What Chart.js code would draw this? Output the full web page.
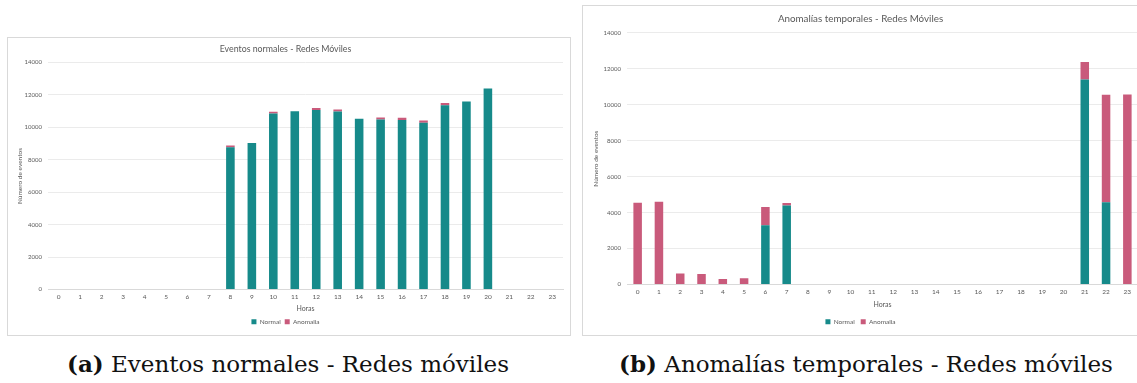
<!DOCTYPE html>
<html>
<head>
<meta charset="utf-8">
<script src="https://cdn.jsdelivr.net/npm/chart.js@4.4.0/dist/chart.umd.min.js"></script>
<style>
html, body { margin: 0; padding: 0; background: #fff; overflow: hidden; }
body { width: 1137px; height: 383px; position: relative; }
.box { position: absolute; border: 1px solid #d9d9d9; background: #fff; }
.box canvas { position: absolute; left: 0; top: 0; }
.cap { position: absolute; font-family: "DejaVu Serif", serif; font-size: 23px; color: #111; white-space: nowrap; text-align: center; }
.cap b { font-weight: bold; }
</style>
</head>
<body>

<div class="box" id="boxA" style="left:7px; top:37px; width:562px; height:297px;"><canvas id="chartA"></canvas></div>
<div class="box" id="boxB" style="left:582px; top:5px; width:562px; height:329px;"><canvas id="chartB"></canvas></div>

<div class="cap" style="left:0px; width:576px; top:350px;"><b>(a)</b> Eventos normales - Redes móviles</div>
<div class="cap" style="left:578px; width:576px; top:350px;"><b>(b)</b> Anomalías temporales - Redes móviles</div>

<script>
// horas del dia
var horas = ['0','1','2','3','4','5','6','7','8','9','10','11','12','13','14','15','16','17','18','19','20','21','22','23'];

// (a) eventos normales
var normalA   = [0,0,0,0,0,0,0,0, 8780, 9030, 10850, 11000, 11070, 10980, 10530, 10490, 10450, 10280, 11360, 11600, 12400, 0,0,0];
var anomaliaA = [0,0,0,0,0,0,0,0, 100, 0, 120, 0, 130, 120, 0, 120, 140, 140, 140, 0, 0, 0,0,0];

// (b) anomalias temporales
var normalB   = [0,0,0,0,0,0, 3300, 4400, 0,0,0,0,0,0,0,0,0,0,0,0,0, 11400, 4580, 0];
var anomaliaB = [4550, 4600, 610, 580, 300, 350, 1010, 130, 0,0,0,0,0,0,0,0,0,0,0,0,0, 980, 5970, 10560];

var yTicks = [0, 2000, 4000, 6000, 8000, 10000, 12000, 14000];

var TEAL = '#168a8a';
var PINK = '#c95a7b';
var GREY = '#595959';
var FONT = 'Lato';

function makeChart(id, w, h, titulo, normal, anomalia, opt) {
	var cv = document.getElementById(id);
	cv.width = w; cv.height = h;
	cv.style.width = w + 'px'; cv.style.height = h + 'px';
	return new Chart(cv, {
		type: 'bar',
		data: {
			labels: horas,
			datasets: [{
				label: 'Normal',
				data: normal,
				backgroundColor: TEAL,
				barPercentage: 0.4,
				categoryPercentage: 1.0
			}, {
				label: 'Anomalia',
				data: anomalia,
				backgroundColor: PINK,
				barPercentage: 0.4,
				categoryPercentage: 1.0
			}]
		},
		options: {
			responsive: false,
			animation: false,
			layout: { padding: { left: 0, right: opt.right, top: 0, bottom: opt.bottom } },
			plugins: {
				title: {
					display: true,
					text: titulo,
					color: GREY,
					font: { family: FONT, size: opt.titleSize, weight: 'normal' },
					padding: { top: opt.titleTop, bottom: opt.titleBottom }
				},
				legend: {
					position: 'bottom',
					labels: {
						color: GREY,
						font: { family: FONT, size: 6.5 },
						boxWidth: 5, boxHeight: 5,
						padding: opt.legendPad
					}
				},
				tooltip: { enabled: false }
			},
			scales: {
				x: {
					stacked: true,
					grid: { display: false, drawTicks: false },
					border: { color: '#d9d9d9' },
					ticks: { color: GREY, font: { family: FONT, size: 6.5 }, maxRotation: 0, autoSkip: false, padding: 4 },
					title: { display: true, text: 'Horas', color: GREY, font: { family: FONT, size: 7 }, padding: { top: 1, bottom: opt.horasPad } },
					afterFit: function (s) { s.height = opt.xHeight; }
				},
				y: {
					stacked: true,
					min: 0, max: 14000,
					afterBuildTicks: function (s) { s.ticks = yTicks.map(function (v) { return { value: v }; }); },
					grid: { color: '#ebebeb', drawTicks: false },
					border: { display: false },
					ticks: {
						color: GREY, font: { family: FONT, size: 6 }, padding: 6,
						callback: function (v) { return String(v); }
					},
					title: { display: true, text: 'Número de eventos', color: GREY, font: { family: FONT, size: 6.5 }, padding: { top: opt.yTitlePad, bottom: 4 } },
					afterFit: function (s) { s.width = opt.yWidth; }
				}
			}
		}
	});
}

makeChart('chartA', 562, 297, 'Eventos normales - Redes Móviles', normalA, anomaliaA,
	{ right: 7, bottom: 0, titleSize: 8.8, titleTop: 6, titleBottom: 8, xHeight: 25, horasPad: 2, legendPad: 4, yWidth: 40, yTitlePad: 8 });
makeChart('chartB', 562, 329, 'Anomalías temporales - Redes Móviles', normalB, anomaliaB,
	{ right: 7, bottom: 0, titleSize: 9.8, titleTop: 7, titleBottom: 8, xHeight: 28, horasPad: 4, legendPad: 6, yWidth: 44, yTitlePad: 9 });
</script>
</body>
</html>
